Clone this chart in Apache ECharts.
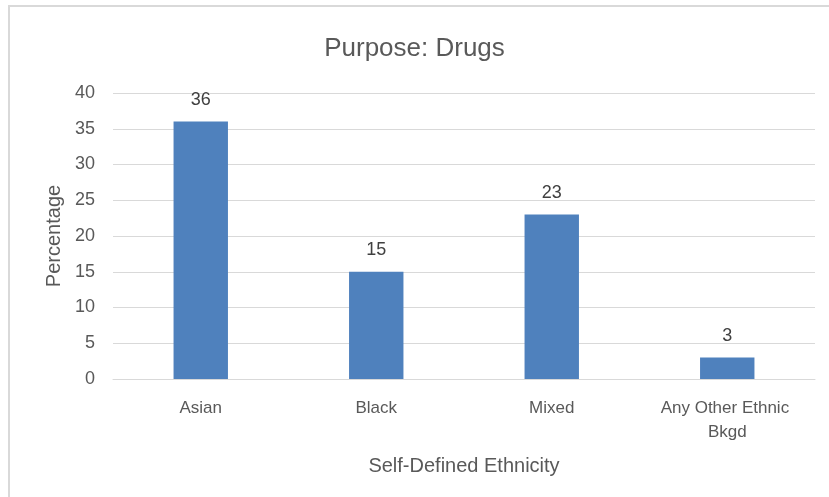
<!DOCTYPE html>
<html><head><meta charset="utf-8">
<script src="https://cdn.jsdelivr.net/npm/echarts@6/dist/echarts.min.js"></script>
<style>html,body{margin:0;padding:0;background:#fff}#c{width:829px;height:497px}</style>
</head><body><div id="c"></div>
<script>
const categories = ["Asian", "Black", "Mixed", "Any Other Ethnic Bkgd"];
const values = [36, 15, 23, 3];
const yTicks = { min: 0, max: 40, interval: 5 };
const titleText = "Purpose: Drugs";
const xName = "Self-Defined Ethnicity";
const yName = "Percentage";

const FONT = "Liberation Sans";
const chart = echarts.init(document.getElementById('c'));
chart.setOption({
  animation: false,
  textStyle: { fontFamily: FONT },
  graphic: [{
    type: 'rect', shape: { x: 9, y: 6, width: 900, height: 600 },
    style: { fill: 'none', stroke: '#d9d9d9', lineWidth: 2 }, silent: true
  }],
  title: {
    text: titleText, left: 'center', top: 31,
    textStyle: { fontFamily: FONT, fontSize: 26, fontWeight: 'normal', color: '#595959' }
  },
  grid: { left: 113, right: 14, top: 93, bottom: 118 },
  xAxis: {
    type: 'category', data: categories,
    name: xName, nameLocation: 'middle', nameGap: 77,
    nameTextStyle: { fontFamily: FONT, fontSize: 20, color: '#595959' },
    axisLine: { lineStyle: { color: '#d9d9d9', width: 1 } },
    axisTick: { show: false },
    axisLabel: { color: '#595959', fontSize: 17, margin: 17, width: 160, overflow: 'break', lineHeight: 24, interval: 0 }
  },
  yAxis: {
    type: 'value', min: yTicks.min, max: yTicks.max, interval: yTicks.interval,
    name: yName, nameLocation: 'middle', nameGap: 48, nameRotate: 90,
    nameTextStyle: { fontFamily: FONT, fontSize: 20, color: '#595959' },
    axisLine: { show: false }, axisTick: { show: false },
    axisLabel: { color: '#595959', fontSize: 18, margin: 18 },
    splitLine: { lineStyle: { color: '#d9d9d9', width: 1 } }
  },
  series: [{
    type: 'bar', data: values, barWidth: '31%',
    itemStyle: { color: '#4f81bd' },
    label: { show: true, position: 'top', distance: 13, color: '#404040', fontSize: 18 }
  }]
});
</script></body></html>
